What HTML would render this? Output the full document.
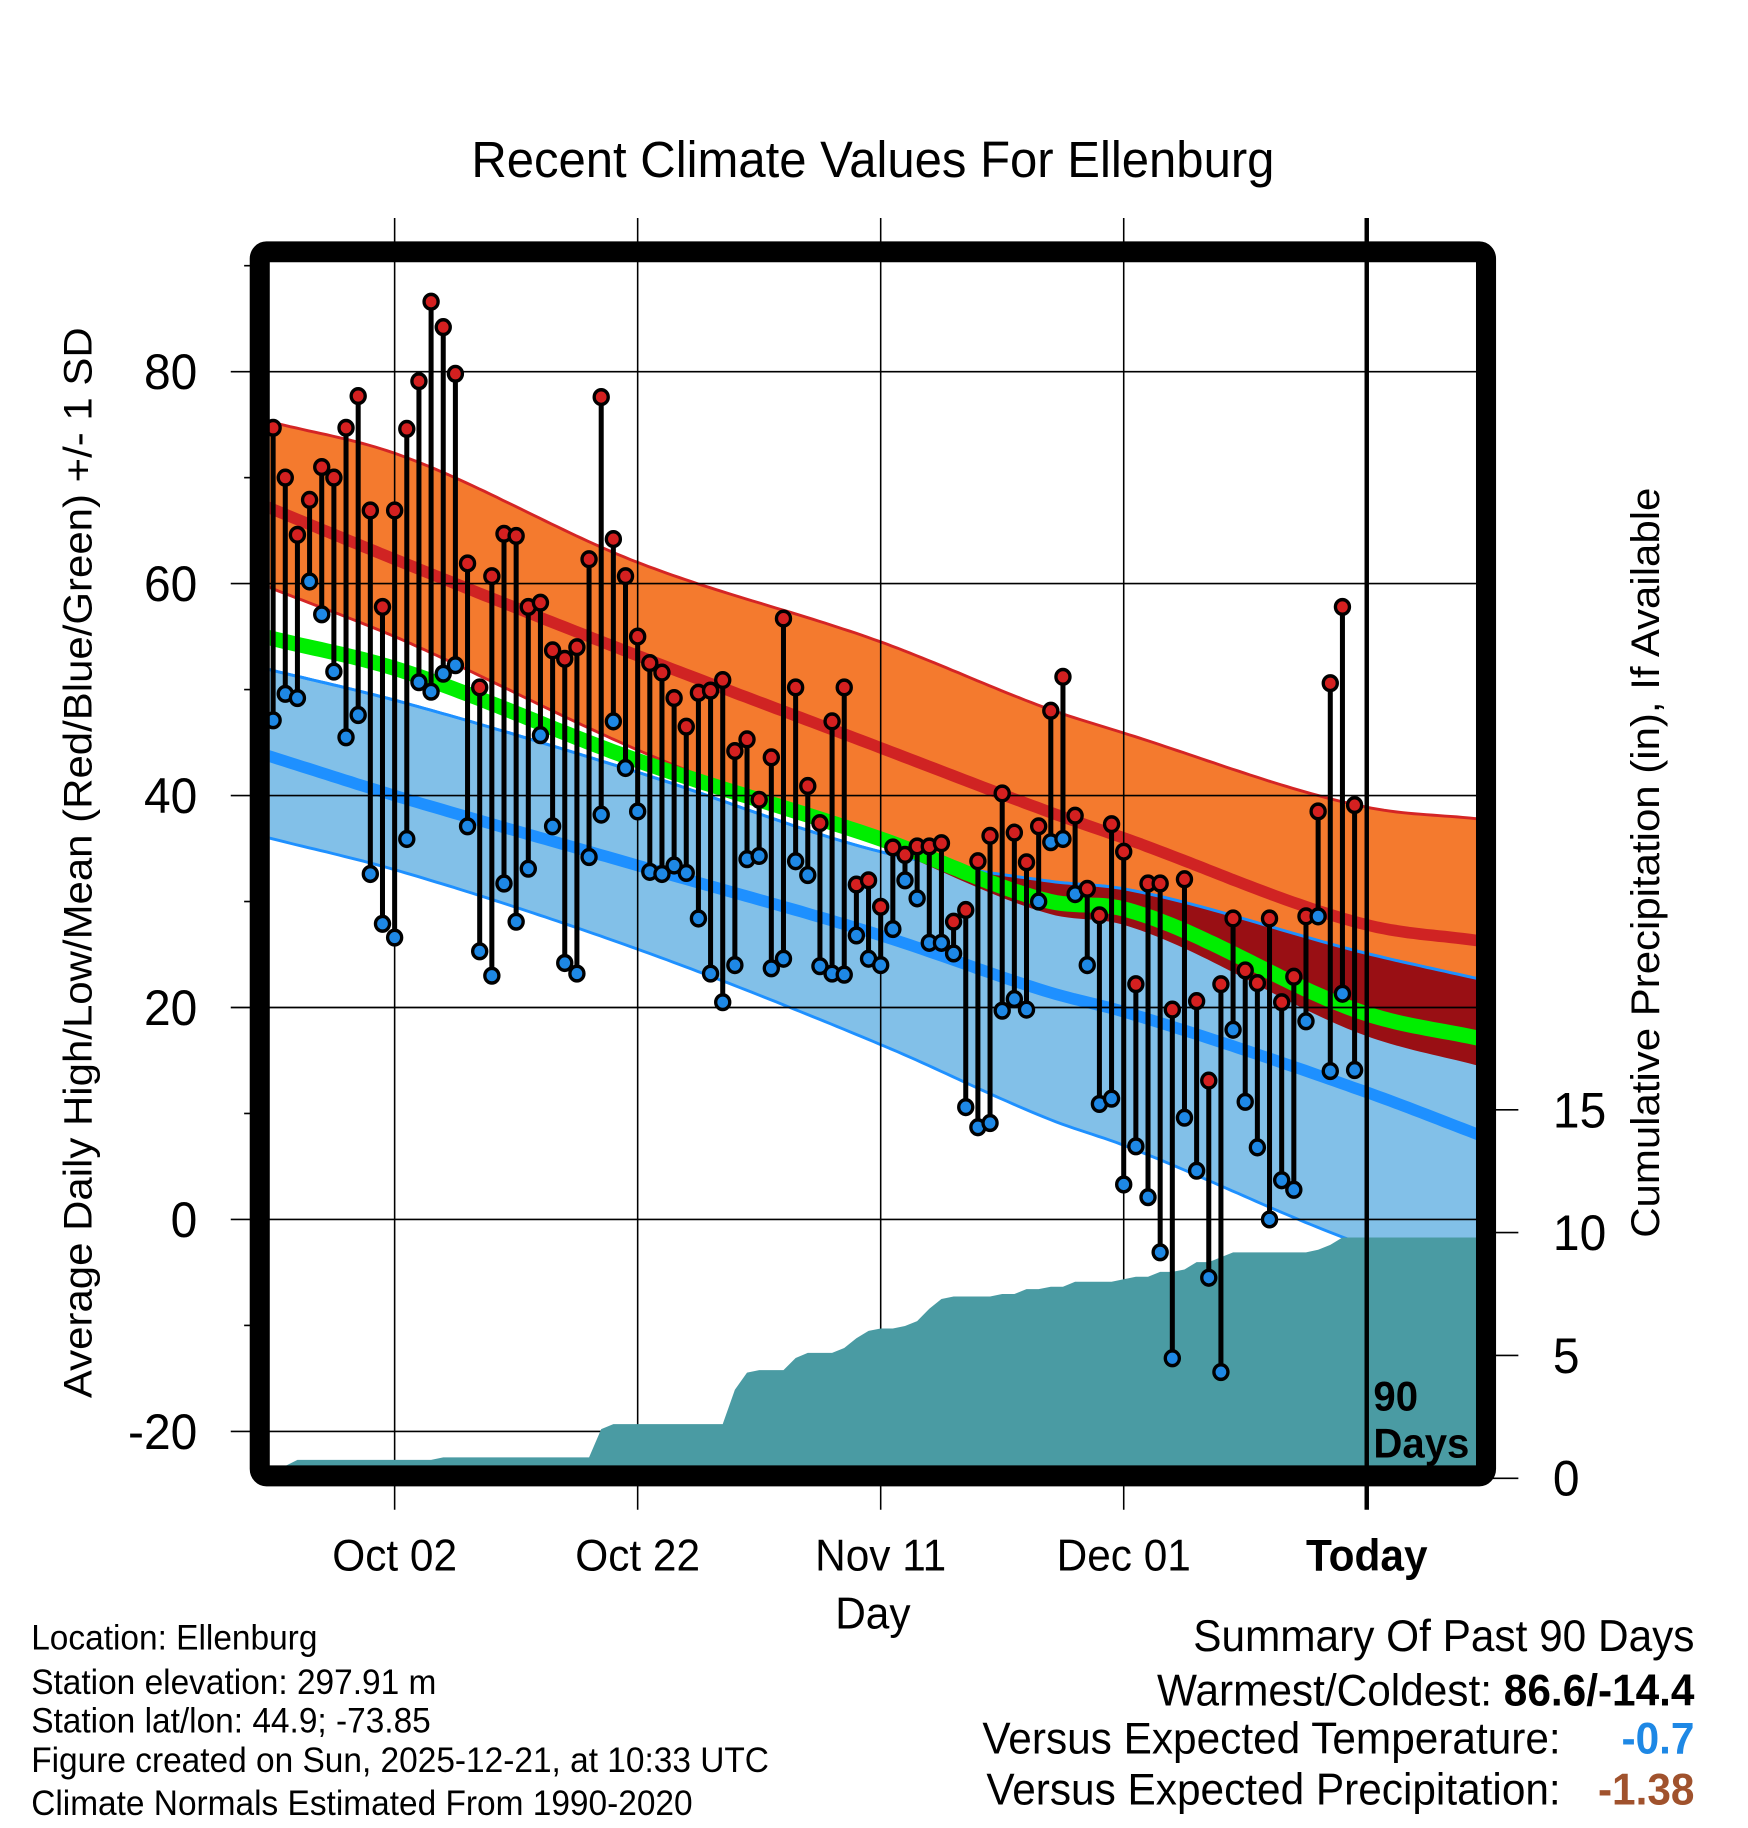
<!DOCTYPE html>
<html><head><meta charset="utf-8">
<style>
html,body{margin:0;padding:0;background:#fff;}
svg{display:block;font-family:"Liberation Sans",Arial,sans-serif;}
</style></head>
<body>
<svg id="chart" width="1748" height="1828" viewBox="0 0 1568 1568" preserveAspectRatio="none" xmlns="http://www.w3.org/2000/svg">
<text x="783" y="152" font-size="44" text-anchor="middle">Recent Climate Values For Ellenburg</text>
<g id="bands"></g>
<g id="grid"></g>
<g id="precip"></g>
<g id="data"></g>
<g id="axes"></g>
<rect x="233" y="216" width="1100" height="1050" rx="6" fill="none" stroke="#000" stroke-width="18"/>
<text transform="translate(82,740) rotate(-90)" font-size="36" text-anchor="middle">Average Daily High/Low/Mean (Red/Blue/Green) +/- 1 SD</text>
<text transform="translate(1488,740) rotate(-90)" font-size="36" text-anchor="middle">Cumulative Precipitation (in), If Available</text>
<text x="783" y="1397" font-size="38" text-anchor="middle">Day</text>
<text x="1232" y="1210" font-size="36" font-weight="bold">90</text>
<text x="1232" y="1250" font-size="36" font-weight="bold">Days</text>
<g font-size="30">
<text x="28" y="1415">Location: Ellenburg</text>
<text x="28" y="1453">Station elevation: 297.91 m</text>
<text x="28" y="1486">Station lat/lon: 44.9; -73.85</text>
<text x="28" y="1520">Figure created on Sun, 2025-12-21, at 10:33 UTC</text>
<text x="28" y="1557">Climate Normals Estimated From 1990-2020</text>
</g>
<g font-size="38" text-anchor="end">
<text x="1520" y="1416">Summary Of Past 90 Days</text>
<text x="1520" y="1463">Warmest/Coldest: <tspan font-weight="bold">86.6/-14.4</tspan></text>
<text x="1400" y="1504">Versus Expected Temperature:</text>
<text x="1520" y="1504" font-weight="bold" fill="#1e88e5">-0.7</text>
<text x="1400" y="1548">Versus Expected Precipitation:</text>
<text x="1520" y="1548" font-weight="bold" fill="#a0522d">-1.38</text>
</g>
</svg>
<script>
const highs=[74.7,70.0,64.6,67.9,71.0,70.0,74.7,77.7,66.9,57.8,66.9,74.6,79.1,86.6,84.2,79.8,61.9,50.2,60.7,64.7,64.5,57.8,58.2,53.7,52.9,54.0,62.3,77.6,64.2,60.7,55.0,52.5,51.6,49.2,46.5,49.7,49.9,50.9,44.2,45.3,39.6,43.6,56.7,50.2,40.9,37.4,47.0,50.2,31.6,32.0,29.5,35.1,34.4,35.2,35.2,35.5,28.1,29.2,33.8,36.2,40.2,36.5,33.7,37.1,48.0,51.2,38.1,31.2,28.7,37.3,34.7,22.2,31.7,31.7,19.8,32.1,20.6,13.1,22.2,28.4,23.5,22.3,28.4,20.5,22.9,28.6,38.5,50.6,57.8,39.1];
const lows=[47.1,49.6,49.2,60.2,57.1,51.7,45.5,47.6,32.6,27.9,26.6,35.9,50.7,49.8,51.5,52.3,37.1,25.3,23.0,31.7,28.1,33.1,45.7,37.1,24.2,23.2,34.2,38.2,47.0,42.6,38.5,32.8,32.6,33.4,32.7,28.4,23.2,20.5,24.0,34.0,34.3,23.7,24.6,33.8,32.5,23.9,23.2,23.1,26.8,24.6,24.0,27.4,32.0,30.3,26.1,26.1,25.1,10.6,8.7,9.1,19.7,20.8,19.8,30.0,35.6,35.9,30.7,24.0,10.9,11.4,3.3,6.9,2.1,-3.1,-13.1,9.6,4.6,-5.5,-14.4,17.9,11.1,6.8,0.0,3.7,2.8,18.7,28.6,14.0,21.3,14.1];
const precip=[0.5,0.5,0.75,0.75,0.75,0.75,0.75,0.75,0.75,0.75,0.75,0.75,0.75,0.75,0.85,0.85,0.85,0.85,0.85,0.85,0.85,0.85,0.85,0.85,0.85,0.85,0.85,2.0,2.2,2.2,2.2,2.2,2.2,2.2,2.2,2.2,2.2,2.2,3.6,4.3,4.4,4.4,4.4,4.9,5.1,5.1,5.1,5.3,5.7,6.0,6.1,6.1,6.2,6.4,6.9,7.3,7.4,7.4,7.4,7.4,7.5,7.5,7.7,7.7,7.8,7.8,8.0,8.0,8.0,8.0,8.1,8.2,8.2,8.4,8.4,8.5,8.8,8.8,9.0,9.2,9.2,9.2,9.2,9.2,9.2,9.2,9.3,9.5,9.8,9.8];
const normDays=[-90,-80,-60,-40,-26,-20,0,9.2];
const hiPlus=[75.2,72.3,62.0,54.5,48.1,45.9,38.9,37.8];
const hiMean=[67.0,62.3,53.2,44.5,38.4,36.0,27.8,26.3];
const hiMinus=[59.5,55.0,44.3,35.3,28.8,27.8,17.3,14.5];
const avgMean=[54.8,52.0,43.3,35.9,30.0,29.3,19.4,17.1];
const loPlus=[51.8,49.0,42.2,34.7,31.9,31.2,25.1,22.7];
const loMean=[43.6,40.0,33.4,26.8,21.4,19.6,12.0,8.0];
const loMinus=[35.9,33.0,25.5,16.5,9.4,7.0,-2.5,-5.5];
const tempTicks=[-20,0,20,40,60,80];
const minorTicks=[-10,10,30,50,70,90];
const precipTicks=[0,5,10,15];
const dateLabels=["Oct 02","Oct 22","Nov 11","Dec 01","Today"];
const dateDays=[-80,-60,-40,-20,0];

const NS="http://www.w3.org/2000/svg";
const X=d=>1226+d*10.9;
const Y=t=>1046-t*9.09;
const YP=p=>1268-p*21.07;
const L=242,R=1325,T=225,B=1258;
function mk(tag,attrs,parent){const e=document.createElementNS(NS,tag);for(const k in attrs)e.setAttribute(k,attrs[k]);parent.appendChild(e);return e;}
// smooth monotone cubic interpolation
function interp(arr,d){
  const xs=normDays,n=xs.length;
  const h=[],s=[];for(let i=0;i<n-1;i++){h.push(xs[i+1]-xs[i]);s.push((arr[i+1]-arr[i])/h[i]);}
  const m=[s[0]];for(let i=1;i<n-1;i++){m.push(s[i-1]*s[i]<=0?0:(s[i-1]+s[i])/2);}m.push(s[n-2]);
  let i=0;while(i<n-2&&d>xs[i+1])i++;
  if(d<xs[0])return arr[0]+s[0]*(d-xs[0]);
  if(d>xs[n-1])return arr[n-1]+s[n-2]*(d-xs[n-1]);
  const t=(d-xs[i])/h[i],t2=t*t,t3=t2*t;
  return (2*t3-3*t2+1)*arr[i]+(t3-2*t2+t)*h[i]*m[i]+(-2*t3+3*t2)*arr[i+1]+(t3-t2)*h[i]*m[i+1];
}
const grid=[];for(let d=-90.6;d<=9.3;d+=0.5)grid.push(d);grid.push(9.4);
function line(arr){return grid.map(d=>X(d).toFixed(1)+","+Y(interp(arr,d)).toFixed(1)).join(" ");}
function band(a,b){return line(a)+" "+grid.slice().reverse().map(d=>X(d).toFixed(1)+","+Y(interp(b,d)).toFixed(1)).join(" ");}
const bands=document.getElementById('bands');
const clip=mk('clipPath',{id:'pc'},bands);mk('rect',{x:L,y:T,width:R-L,height:B-T},clip);
bands.setAttribute('clip-path','url(#pc)');
let e;
e=mk('polygon',{points:band(hiPlus,hiMinus),fill:'#f47a2e',stroke:'#d42525','stroke-width':2.5},bands);

e=mk('polygon',{points:band(loPlus,loMinus),fill:'#82c0e8',stroke:'#1e90ff','stroke-width':2.5},bands);

const ovTop=[],ovBot=[];
grid.forEach(d=>{const top=Math.min(interp(hiPlus,d),interp(loPlus,d));const bot=Math.max(interp(hiMinus,d),interp(loMinus,d));if(top>bot){ovTop.push([d,top]);ovBot.push([d,bot]);}});
if(ovTop.length){const pts=ovTop.map(p=>X(p[0])+","+Y(p[1])).concat(ovBot.slice().reverse().map(p=>X(p[0])+","+Y(p[1]))).join(" ");
e=mk('polygon',{points:pts,fill:'#990f14'},bands);
}
e=mk('polyline',{points:line(loPlus),fill:'none',stroke:'#1e90ff','stroke-width':2.5},bands);

e=mk('polyline',{points:line(hiMean),fill:'none',stroke:'#d02323','stroke-width':10},bands);

e=mk('polyline',{points:line(loMean),fill:'none',stroke:'#1e90ff','stroke-width':10},bands);

e=mk('polyline',{points:line(avgMean),fill:'none',stroke:'#00ee00','stroke-width':13},bands);


const gridG=document.getElementById('grid');
tempTicks.forEach(t=>{e=mk('line',{x1:207,x2:R,y1:Y(t),y2:Y(t),stroke:'#000','stroke-width':1.4},gridG);
});
dateDays.forEach(d=>{if(d===0)return;e=mk('line',{x1:X(d),x2:X(d),y1:187,y2:1295,stroke:'#000','stroke-width':1.4},gridG);
});

const pG=document.getElementById('precip');
let pts=[X(-90.3)+","+B];
precip.forEach((p,i)=>{pts.push(X(i-90).toFixed(1)+","+YP(p).toFixed(1));});
pts.push(R+","+YP(precip[precip.length-1]));pts.push(R+","+B);
e=mk('polygon',{points:pts.join(" "),fill:'#4a9ba3'},pG);


const dG=document.getElementById('data');
highs.forEach((h,i)=>{const x=X(i-90);
e=mk('line',{x1:x,x2:x,y1:Y(h),y2:Y(lows[i]),stroke:'#000','stroke-width':4.5},dG);

e=mk('circle',{cx:x,cy:Y(h),r:6.3,fill:'#d42020',stroke:'#000','stroke-width':3},dG);

e=mk('circle',{cx:x,cy:Y(lows[i]),r:6.3,fill:'#1e88e5',stroke:'#000','stroke-width':3},dG);
});

const aG=document.getElementById('axes');
e=mk('line',{x1:X(0),x2:X(0),y1:187,y2:1295,stroke:'#000','stroke-width':4},aG);

tempTicks.forEach(t=>{e=mk('text',{x:177,y:Y(t)+15,'font-size':43,'text-anchor':'end'},aG);e.textContent=t;
});
minorTicks.forEach(t=>{e=mk('line',{x1:219,x2:233,y1:Y(t),y2:Y(t),stroke:'#000','stroke-width':1.4},aG);
});
precipTicks.forEach(p=>{e=mk('line',{x1:1333,x2:1362,y1:YP(p),y2:YP(p),stroke:'#000','stroke-width':1.4},aG);

e=mk('text',{x:1393,y:YP(p)+15,'font-size':43},aG);e.textContent=p;
});
dateLabels.forEach((lab,i)=>{e=mk('text',{x:X(dateDays[i]),y:1347,'font-size':38,'text-anchor':'middle'},aG);
if(lab==='Today')e.setAttribute('font-weight','bold');e.textContent=lab;
});
</script>
</body></html>
